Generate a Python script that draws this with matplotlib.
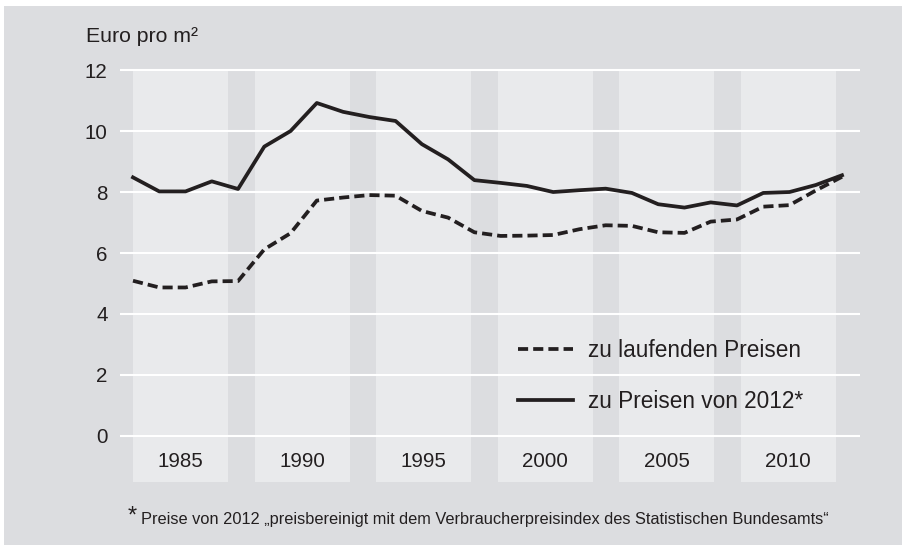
import numpy as np
import matplotlib
matplotlib.use("Agg")
import matplotlib.pyplot as plt
from matplotlib.patches import Rectangle

plt.rcParams['font.family'] = ['Liberation Sans', 'DejaVu Sans']

# data (Euro pro m²)
years = list(range(1985, 2013))
nominal = [5.09, 4.87, 4.87, 5.07, 5.08, 6.12, 6.65, 7.72, 7.82, 7.90,
           7.88, 7.38, 7.16, 6.68, 6.56, 6.57, 6.59, 6.78, 6.91, 6.89,
           6.68, 6.66, 7.03, 7.10, 7.52, 7.57, 8.05, 8.50]
real_2012 = [8.48, 8.02, 8.02, 8.35, 8.10, 9.49, 10.00, 10.92, 10.63, 10.46,
             10.33, 9.57, 9.07, 8.39, 8.30, 8.20, 8.00, 8.06, 8.11, 7.97,
             7.60, 7.49, 7.66, 7.56, 7.97, 8.00, 8.23, 8.55]
band_labels = ['1985', '1990', '1995', '2000', '2005', '2010']
y_ticks = [0, 2, 4, 6, 8, 10, 12]

# styling
W, H = 906, 545
TEXT = '#231f20'
PANEL = '#dcdde0'
BAND = '#e9eaec'
BAND_PERIOD = 4.627   # years between band starts
BAND_WIDTH = 3.63     # width of a light band in years
FS = 14.8
FS_LEG = 16.3

fig = plt.figure(figsize=(W / 100, H / 100), dpi=100)
fig.patch.set_facecolor('white')
fig.patches.append(Rectangle((4 / W, 0), (W - 8) / W, 1 - 6 / H,
                             transform=fig.transFigure, facecolor=PANEL,
                             edgecolor='none', zorder=-10))

ax = fig.add_axes([120 / W, 1 - 481.7 / H, 740 / W, (481.7 - 60) / H])
ax.set_facecolor('none')
ax.set_xlim(1984.505, 2012.685)
ax.set_ylim(-1.5, 12.33)
for s in ax.spines.values():
    s.set_visible(False)

# light vertical bands with the year labels in their middle
for i, lab in enumerate(band_labels):
    x0 = years[0] + i * BAND_PERIOD
    ax.add_patch(Rectangle((x0, -1.5), BAND_WIDTH, 13.5, facecolor=BAND,
                           edgecolor='none', zorder=0))
    ax.text(x0 + BAND_WIDTH / 2, -0.85, lab, ha='center', va='center',
            fontsize=FS, color=TEXT)

for v in y_ticks:
    ax.axhline(v, color='white', lw=1.5, zorder=1)

ax.plot(years, nominal, color=TEXT, lw=2.7, dashes=(2.7, 1.35),
        label='zu laufenden Preisen', zorder=3)
ax.plot(years, real_2012, color=TEXT, lw=2.7,
        label='zu Preisen von 2012*', zorder=3)

ax.set_xticks([])
ax.set_yticks(y_ticks)
ax.set_yticklabels([str(v) for v in y_ticks])
ax.tick_params(axis='y', length=0, pad=8.9, labelsize=FS, labelcolor=TEXT)

leg = ax.legend(loc='upper left', bbox_to_anchor=(518 / W, 1 - 339 / H),
                bbox_transform=fig.transFigure, frameon=False,
                fontsize=FS_LEG, borderpad=0, borderaxespad=0,
                handlelength=2.43, handletextpad=0.66, labelspacing=1.25)
for t in leg.get_texts():
    t.set_color(TEXT)

fig.text(85.5 / W, 1 - 36.5 / H, 'Euro pro m²', ha='left', va='center',
         fontsize=15.3, color=TEXT)
fig.text(128 / W, 1 - 517 / H, '*', ha='left', va='center',
         fontsize=17, color=TEXT)
fig.text(141 / W, 1 - 519.6 / H,
         'Preise von 2012 \u201epreisbereinigt mit dem Verbraucherpreisindex '
         'des Statistischen Bundesamts\u201c',
         ha='left', va='center', fontsize=11.8, color=TEXT)

fig.savefig('out.png', dpi=100, facecolor=fig.get_facecolor())
